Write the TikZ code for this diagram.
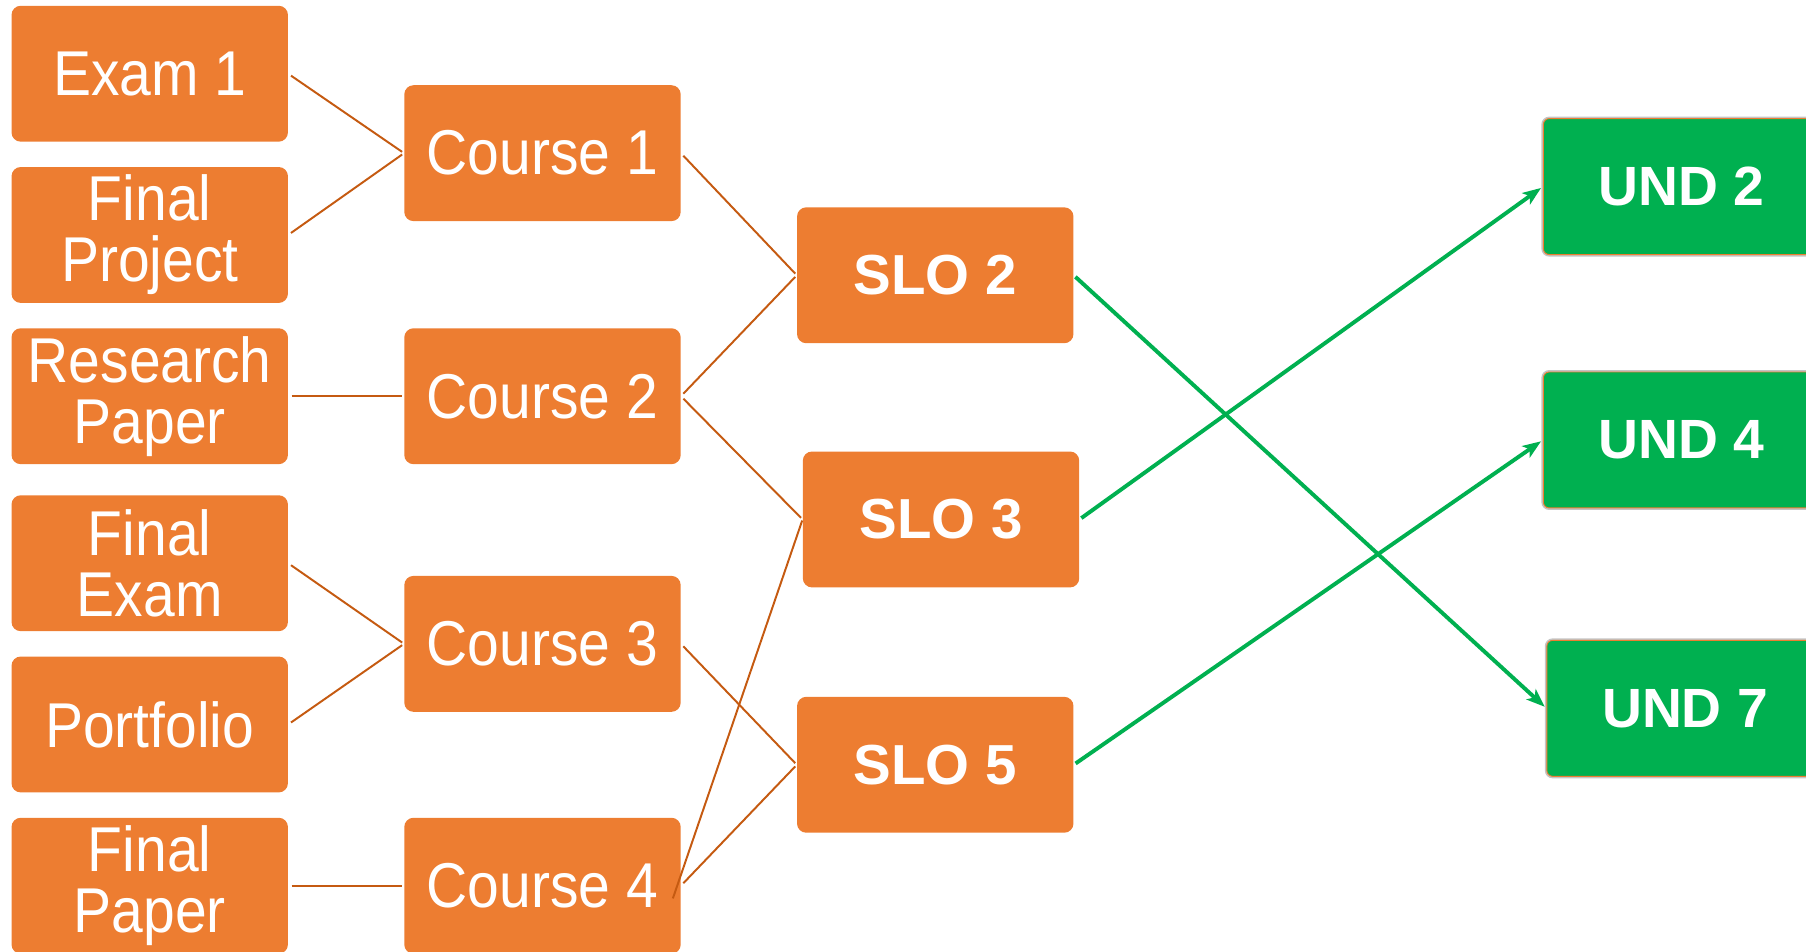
\documentclass[tikz,border=0pt]{standalone}
\usepackage{fontspec}
\setmainfont{Liberation Sans}
\newfontfamily\condfont{Liberation Sans}[FakeStretch=0.9]
\usetikzlibrary{arrows.meta}
\definecolor{boxorange}{HTML}{ED7D31}
\definecolor{lineorange}{HTML}{C55A11}
\definecolor{undgreen}{HTML}{00B050}
\definecolor{rimgray}{HTML}{C4C4C4}

\begin{document}
\begin{tikzpicture}[x=1pt,y=-1pt,
  card/.style={fill=boxorange, rounded corners=8pt, minimum width=240pt,
    minimum height=118pt, text=white, align=center, inner sep=0pt},
  itembox/.style={card, font=\condfont\fontsize{55}{53}\selectfont},
  slobox/.style={card, font=\bfseries\fontsize{49}{56}\selectfont},
  undbox/.style={fill=undgreen, rounded corners=5pt, minimum width=240pt,
    minimum height=118pt, text=white, inner sep=0pt,
    preaction={draw=rimgray, line width=3.5pt},
    draw=boxorange, line width=0.8pt,
    font=\bfseries\fontsize{48}{56}\selectfont},
  link/.style={draw=lineorange, line width=1.7pt, shorten <=3pt, shorten >=2pt},
  goal/.style={draw=undgreen, line width=3.4pt,
    -{Stealth[length=16pt,width=12pt,inset=4pt]}, shorten <=2pt, shorten >=2pt}
]
\useasboundingbox (0,0) rectangle (1568,826);
\clip (0,0) rectangle (1568,826);

% assessments
\node[itembox] (exam1)    at (130,64)  {Exam 1};
\node[itembox] (fproject) at (130,204) {Final\\Project};
\node[itembox] (research) at (130,344) {Research\\Paper};
\node[itembox] (fexam)    at (130,489) {Final\\Exam};
\node[itembox] (portf)    at (130,629) {Portfolio};
\node[itembox] (fpaper)   at (130,769) {Final\\Paper};

% courses
\node[itembox] (c1) at (471,133) {Course 1};
\node[itembox] (c2) at (471,344) {Course 2};
\node[itembox] (c3) at (471,559) {Course 3};
\node[itembox] (c4) at (471,769) {Course 4};

% student learning outcomes
\node[slobox] (slo2) at (812,239) {SLO 2};
\node[slobox] (slo3) at (817,451) {SLO 3};
\node[slobox] (slo5) at (812,664) {SLO 5};

% undergraduate outcomes
\node[undbox] (und2) at (1460,162) {UND 2};
\node[undbox] (und4) at (1460,382) {UND 4};
\node[undbox] (und7) at (1463,615) {UND 7};

% assessment -> course
\draw[link] (exam1.east)    -- (c1.west);
\draw[link] (fproject.east) -- (c1.west);
\draw[link] (research.east) -- (c2.west);
\draw[link] (fexam.east)    -- (c3.west);
\draw[link] (portf.east)    -- (c3.west);
\draw[link] (fpaper.east)   -- (c4.west);

% course -> SLO
\draw[link] (c1.east) -- (slo2.west);
\draw[link] (c2.east) -- (slo2.west);
\draw[link] (c2.east) -- (slo3.west);
\draw[link] (c3.east) -- (slo5.west);
\draw[link] (c4.east) -- (slo5.west);
\draw[draw=lineorange, line width=1.7pt, shorten >=1pt]
  ([shift={(-7,11)}]c4.east) -- (slo3.west);

% SLO -> UND
\draw[goal] (slo2.east) -- (und7.west);
\draw[goal] (slo3.east) -- (und2.west);
\draw[goal] (slo5.east) -- (und4.west);
\end{tikzpicture}
\end{document}
